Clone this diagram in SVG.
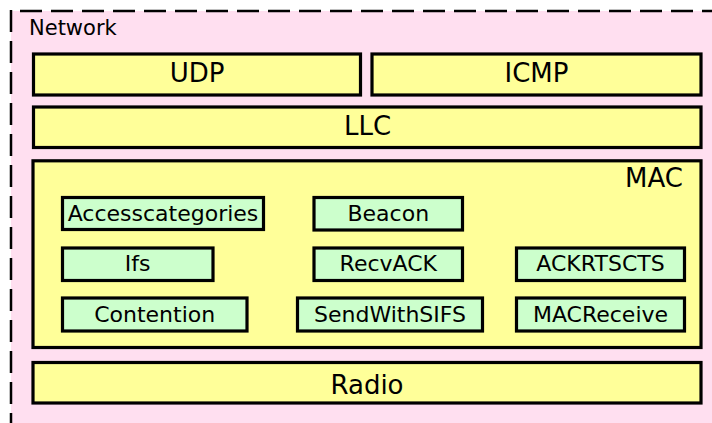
<svg xmlns="http://www.w3.org/2000/svg" width="712" height="423" viewBox="0 0 712 423">
<style>
  text { font-family: "DejaVu Sans", Verdana, sans-serif; fill: #000; }
  .layer { fill: #ffff99; stroke: #000; stroke-width: 3.2; }
  .mod { fill: #ccffcc; stroke: #000; stroke-width: 3.2; }
  .lt { font-size: 26px; text-anchor: middle; }
  .mt { font-size: 22px; text-anchor: middle; }
  .dash { stroke: #000; stroke-width: 2.5; stroke-dasharray: 22 9; fill: none; }
</style>
<rect width="712" height="423" fill="#ffffff"/>
<g id="network">
  <rect x="11" y="11" width="701" height="412" fill="#ffdff0"/>
  <line class="dash" x1="11" y1="11" x2="712" y2="11" stroke-dashoffset="22"/>
  <line class="dash" x1="11" y1="10" x2="11" y2="423"/>
  <text x="29" y="35" font-size="21">Network</text>
</g>
<g id="udp">
  <rect class="layer" x="33.5" y="54" width="327" height="41"/>
  <text class="lt" x="197" y="82">UDP</text>
</g>
<g id="icmp">
  <rect class="layer" x="372" y="54" width="329" height="41"/>
  <text class="lt" x="536.5" y="82">ICMP</text>
</g>
<g id="llc">
  <rect class="layer" x="33.5" y="107" width="667.5" height="40.5"/>
  <text class="lt" x="367.5" y="135">LLC</text>
</g>
<g id="mac">
  <rect class="layer" x="33" y="160.8" width="668" height="186.7"/>
  <text x="683" y="187" font-size="26" text-anchor="end">MAC</text>
</g>
<g id="accesscategories">
  <rect class="mod" x="62.5" y="197.5" width="201" height="32"/>
  <text class="mt" x="163" y="221">Accesscategories</text>
</g>
<g id="ifs">
  <rect class="mod" x="62.5" y="248" width="150.5" height="32.5"/>
  <text class="mt" x="137.7" y="271">Ifs</text>
</g>
<g id="contention">
  <rect class="mod" x="62.5" y="298" width="184.5" height="33"/>
  <text class="mt" x="154.7" y="322">Contention</text>
</g>
<g id="beacon">
  <rect class="mod" x="314" y="197.5" width="148.5" height="32.5"/>
  <text class="mt" x="388.3" y="221">Beacon</text>
</g>
<g id="recvack">
  <rect class="mod" x="314" y="248" width="148.5" height="32.5"/>
  <text class="mt" x="388.3" y="271">RecvACK</text>
</g>
<g id="sendwithsifs">
  <rect class="mod" x="297.5" y="298" width="185" height="33"/>
  <text class="mt" x="390" y="322">SendWithSIFS</text>
</g>
<g id="ackrtscts">
  <rect class="mod" x="516.5" y="248" width="168" height="32.5"/>
  <text class="mt" x="600.5" y="271">ACKRTSCTS</text>
</g>
<g id="macreceive">
  <rect class="mod" x="516.5" y="298" width="168" height="33"/>
  <text class="mt" x="600.5" y="322">MACReceive</text>
</g>
<g id="radio">
  <rect class="layer" x="33" y="362.5" width="668" height="40.5"/>
  <text class="lt" x="367" y="394">Radio</text>
</g>
<g id="connectors"></g>
</svg>
